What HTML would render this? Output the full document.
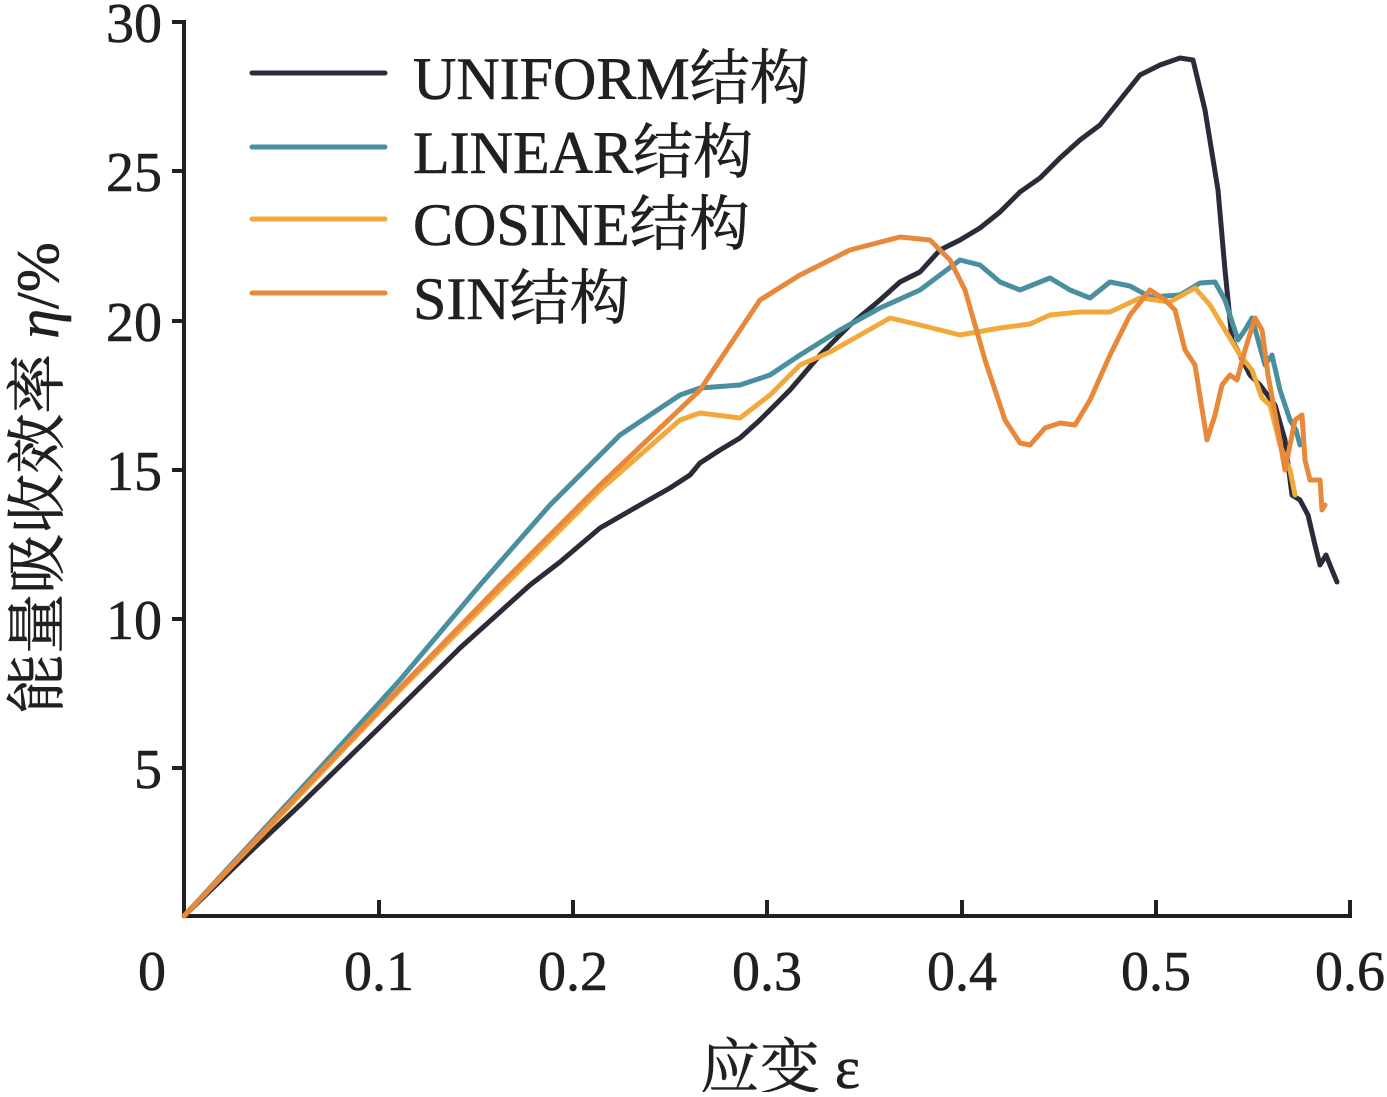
<!DOCTYPE html>
<html><head><meta charset="utf-8"><style>
body{margin:0;background:#fff}
svg text{font-family:"Liberation Serif","Noto Serif CJK SC",serif;fill:#231f20;stroke:#231f20;stroke-width:0.6}
</style></head><body>
<svg width="1387" height="1092" viewBox="0 0 1387 1092" xmlns="http://www.w3.org/2000/svg">
<g stroke="#231f20" stroke-width="4" fill="none">
<line x1="184" y1="20" x2="184" y2="918"/>
<line x1="182" y1="916" x2="1352" y2="916"/>
<line x1="172" y1="22" x2="184" y2="22"/>
<line x1="172" y1="171" x2="184" y2="171"/>
<line x1="172" y1="321" x2="184" y2="321"/>
<line x1="172" y1="470" x2="184" y2="470"/>
<line x1="172" y1="619" x2="184" y2="619"/>
<line x1="172" y1="768" x2="184" y2="768"/>
<line x1="379" y1="900" x2="379" y2="916"/>
<line x1="573" y1="900" x2="573" y2="916"/>
<line x1="767" y1="900" x2="767" y2="916"/>
<line x1="962" y1="900" x2="962" y2="916"/>
<line x1="1156" y1="900" x2="1156" y2="916"/>
<line x1="1350" y1="900" x2="1350" y2="916"/>
</g>
<g font-size="56" text-anchor="end">
<text x="162" y="42">30</text><text x="162" y="191">25</text><text x="162" y="341">20</text>
<text x="162" y="490">15</text><text x="162" y="639">10</text><text x="162" y="788">5</text>
</g>
<g font-size="56" text-anchor="middle">
<text x="152" y="990">0</text><text x="379" y="990">0.1</text><text x="573" y="990">0.2</text>
<text x="767" y="990">0.3</text><text x="962" y="990">0.4</text><text x="1156" y="990">0.5</text><text x="1350" y="990">0.6</text>
<text x="780" y="1088" font-size="60">应变 ε</text>
</g>
<text font-size="60" text-anchor="middle" transform="translate(58,478) rotate(-90)">能量吸收效率 <tspan font-style="italic">η</tspan>/%</text>
<g fill="none" stroke-width="5" stroke-linejoin="round" stroke-linecap="round">
<polyline stroke="#2b2b3a" points="184,916 250,852 300,805 380,727 460,648 530,585 560,562 600,528 640,505 670,488 690,475 700,463 720,450 740,438 760,420 790,390 820,355 850,325 880,300 900,282 920,272 940,250 960,240 980,228 1000,212 1020,192 1040,178 1060,158 1080,140 1100,125 1120,100 1140,75 1160,65 1180,58 1193,60 1205,110 1218,190 1225,270 1232,340 1240,355 1250,375 1260,385 1275,405 1285,440 1292,495 1300,500 1308,515 1315,545 1320,565 1326,555 1332,570 1337,582"/>
<polyline stroke="#4a8fa0" points="184,916 300,790 400,680 480,585 550,505 620,435 680,395 700,388 740,385 770,375 800,355 840,330 880,308 920,290 940,275 960,260 980,265 1000,282 1020,290 1050,278 1070,290 1090,298 1110,282 1130,286 1150,297 1180,295 1200,283 1215,282 1225,300 1238,340 1245,330 1252,318 1258,340 1265,365 1272,355 1280,390 1290,420 1296,430 1300,445"/>
<polyline stroke="#f2a93b" points="184,916 300,795 400,690 500,590 600,490 680,420 700,413 740,418 770,395 800,365 830,352 860,335 890,318 920,325 960,335 1000,328 1030,324 1050,315 1080,312 1110,312 1140,298 1170,302 1195,288 1210,305 1225,330 1240,355 1252,370 1262,398 1270,405 1280,445 1290,470 1295,495"/>
<polyline stroke="#e8883a" points="184,916 300,793 400,688 500,585 600,485 700,390 760,300 800,275 850,250 900,237 930,240 950,260 965,290 985,360 1005,420 1020,443 1030,445 1045,428 1060,423 1075,425 1090,400 1110,355 1130,315 1150,290 1165,300 1175,310 1185,350 1195,365 1207,440 1215,415 1222,385 1230,375 1237,380 1245,350 1255,318 1262,330 1268,375 1278,430 1285,470 1290,445 1295,420 1302,415 1305,460 1310,480 1316,480 1320,480 1322,510 1325,505"/>
<line stroke="#2b2b3a" x1="252" y1="73" x2="385" y2="73"/>
<line stroke="#4a8fa0" x1="252" y1="147" x2="385" y2="147"/>
<line stroke="#f2a93b" x1="252" y1="219" x2="385" y2="219"/>
<line stroke="#e8883a" x1="252" y1="293" x2="385" y2="293"/>
</g>
<g font-size="60">
<text x="413" y="99">UNIFORM结构</text>
<text x="413" y="173">LINEAR结构</text>
<text x="413" y="245">COSINE结构</text>
<text x="413" y="319">SIN结构</text>
</g>
</svg>
</body></html>
